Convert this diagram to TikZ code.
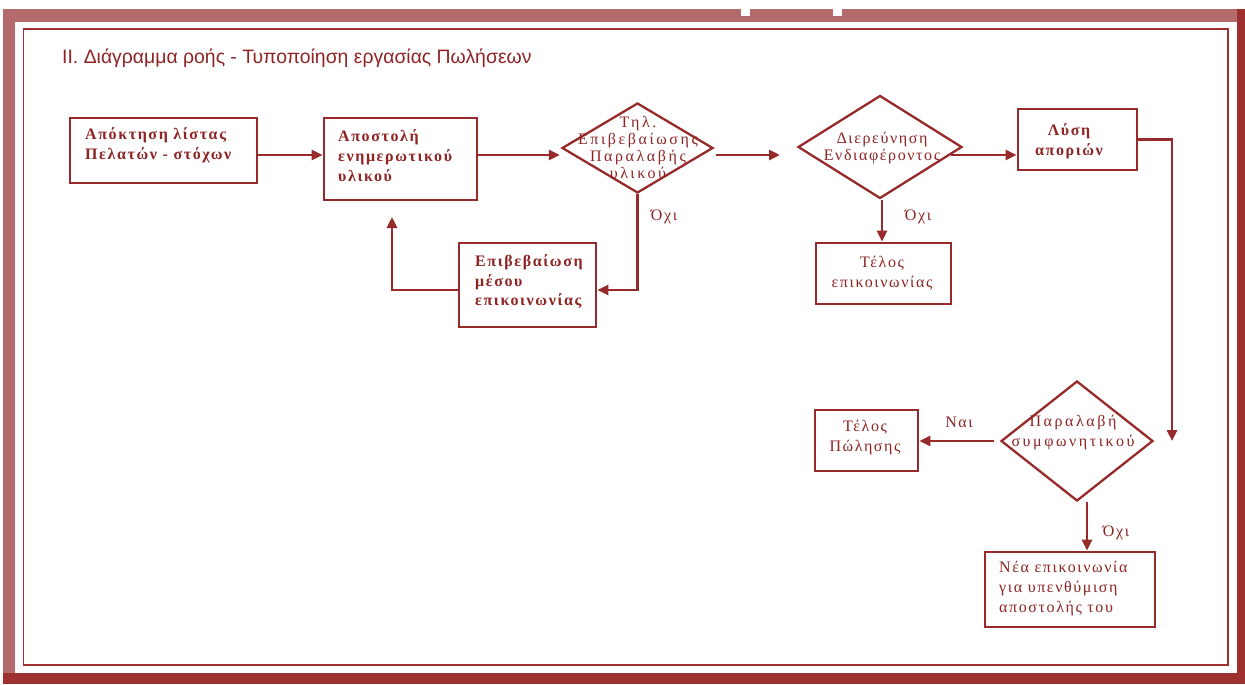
\documentclass[tikz,border=0pt]{standalone}
\usepackage{fontspec}
\setmainfont{Liberation Serif}
\newfontfamily\titlefont{Liberation Sans}
\newfontfamily\gkfont[LetterSpace=10]{Liberation Serif}
\newfontfamily\gkwide[LetterSpace=16]{Liberation Serif}
\usetikzlibrary{arrows.meta,shapes.geometric,calc}
\definecolor{lc}{HTML}{972B2B}
\definecolor{tc}{HTML}{8E2424}
\definecolor{bandtop}{HTML}{B56B6B}
\definecolor{banddark}{HTML}{9E3030}
\definecolor{frameline}{HTML}{A03030}
\tikzset{
  boxnode/.style={draw=lc, line width=2.8pt, minimum width=#1, inner sep=0pt, rectangle},
  dianode/.style={draw=lc, line width=2.3pt, shape=diamond, inner sep=0pt},
  btxt/.style={font=\gkfont\bfseries\fontsize{16}{20}\selectfont, text=tc, align=left, inner sep=0pt},
  rtxt/.style={font=\gkfont\fontsize{16}{20}\selectfont, text=tc, align=center, inner sep=0pt},
  lbl/.style={font=\gkfont\fontsize{16}{18}\selectfont, text=tc, inner sep=0pt},
  conn/.style={draw=lc, line width=2.8pt},
  arr/.style={conn, -{Triangle[length=11pt,width=10pt]}}
}
\begin{document}
\begin{tikzpicture}[x=1pt,y=-1pt]
\useasboundingbox (0,0) rectangle (1245,685);
% frame
\fill[bandtop] (3,9) rectangle (1245,684);
\fill[banddark] (3,673) rectangle (1245,684);
\fill[banddark] (1237,9) rectangle (1245,684);
\fill[white] (741,9) rectangle (750,16);
\fill[white] (833,9) rectangle (842,16);
\fill[white] (15,22) rectangle (1237,673);
\draw[frameline, line width=1.6pt] (23.5,29) rectangle (1228,665);
% title
\node[anchor=west, font=\titlefont\fontsize{19.4}{22}\selectfont, text=tc, inner sep=0pt] (title) at (62,58) {II. Διάγραμμα ροής - Τυποποίηση εργασίας Πωλήσεων};
% reference rows
\coordinate (r1) at (0,155);
\coordinate (r3) at (0,290);
% boxes
\node[boxnode=187pt, minimum height=65pt] (b1) at (163.5,150.5) {};
\node[btxt, anchor=west] (b1t) at (85,145) {Απόκτηση λίστας\\Πελατών - στόχων};
\node[boxnode=153pt, minimum height=82pt] (b2) at (400.5,159) {};
\node[btxt, anchor=west] (b2t) at (338,156) {Αποστολή\\ενημερωτικού\\υλικού};
\node[boxnode=137pt, minimum height=84pt] (ep) at (527.5,285) {};
\node[btxt, anchor=west, font=\gkfont\bfseries\fontsize{16}{19.5}\selectfont] (ept) at (475,282) {Επιβεβαίωση\\μέσου\\επικοινωνίας};
\node[boxnode=119pt, minimum height=61pt] (lys) at (1077.5,139.5) {};
\node[btxt, align=center] (lyst) at (1069,141) {Λύση\\αποριών};
\node[boxnode=135pt, minimum height=61pt] (te) at (883.5,273.5) {};
\node[rtxt] (tet) at (882,273) {Τέλος\\επικοινωνίας};
\node[boxnode=103pt, minimum height=61pt] (tp) at (866.5,440.5) {};
\node[rtxt] (tpt) at (865,438) {Τέλος\\Πώλησης};
\node[boxnode=170pt, minimum height=75pt] (nea) at (1070,589.5) {};
\node[rtxt, align=left, anchor=west] (neat) at (999,589) {Νέα επικοινωνία\\για υπενθύμιση\\αποστολής του};
% diamonds
\node[dianode, minimum width=151pt, minimum height=90pt, aspect=1.678] (d1) at (637.5,148) {};
\node[rtxt, font=\gkwide\fontsize{16}{17}\selectfont] (d1t) at (638,147) {Τηλ.\\Επιβεβαίωσης\\Παραλαβής\\υλικού};
\node[dianode, minimum width=164pt, minimum height=103pt, aspect=1.592] (d2) at (880,147) {};
\node[rtxt, font=\gkfont\fontsize{16}{17}\selectfont] (d2t) at (882,148) {Διερεύνηση\\Ενδιαφέροντος};
\node[dianode, minimum width=152pt, minimum height=120pt, aspect=1.267] (d3) at (1077,441) {};
\node[rtxt, font=\gkwide\fontsize{16}{20}\selectfont] (d3t) at (1073,433) {Παραλαβή\\συμφωνητικού};
% free ends
\coordinate (g1) at (780,155);
\coordinate (g2) at (1172,441);
\coordinate (g3) at (392,217);
% connectors
\draw[arr] (b1.east |- r1) -- (b2.west |- r1);
\draw[arr] (b2.east |- r1) -- ([xshift=-1pt]d1.west |- r1);
\draw[arr] ([xshift=2pt]d1.east |- r1) -- (g1);
\draw[arr] (d2.-6 |- r1) -- (lys.west |- r1);
\draw[arr] (lys.east) -| (g2);
\draw[arr] (d1.south) |- (ep.east |- r3);
\draw[arr] (ep.west |- r3) -| (g3);
\draw[arr] ([xshift=2pt]d2.south) -- ([xshift=2pt]d2.south |- te.north);
\draw[arr] ([xshift=-6pt]d3.west) -- (tp.east |- d3.west);
\draw[arr] ([xshift=10pt]d3.south) -- ([xshift=10pt]d3.south |- nea.north);
% labels
\node[lbl] (l1) at (664,217) {Όχι};
\node[lbl] (l2) at (918,217) {Όχι};
\node[lbl] (l3) at (959,422) {Ναι};
\node[lbl] (l4) at (1116,533) {Όχι};
\end{tikzpicture}
\end{document}
